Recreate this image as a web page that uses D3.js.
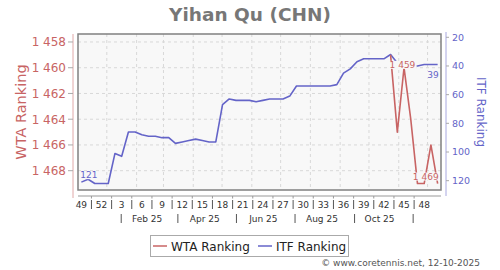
<!DOCTYPE html>
<html lang="en">
<head>
<meta charset="UTF-8">
<title>Yihan Qu (CHN)</title>
<script src="https://d3js.org/d3.v7.min.js"></script>
<style>
  body { margin: 0; background: #fff; }
  svg { font-family: "DejaVu Sans", sans-serif; }
  .grid line { stroke: #d8d8d8; stroke-width: 1; stroke-dasharray: 3,3; }
</style>
</head>
<body>
<script>
// ranking weeks (Monday of each ISO week)
const weekDates = [
  "2024-12-02","2024-12-09","2024-12-16","2024-12-23","2024-12-30",
  "2025-01-06","2025-01-13","2025-01-20","2025-01-27","2025-02-03",
  "2025-02-10","2025-02-17","2025-02-24","2025-03-03","2025-03-10",
  "2025-03-17","2025-03-24","2025-03-31","2025-04-07","2025-04-14",
  "2025-04-21","2025-04-28","2025-05-05","2025-05-12","2025-05-19",
  "2025-05-26","2025-06-02","2025-06-09","2025-06-16","2025-06-23",
  "2025-06-30","2025-07-07","2025-07-14","2025-07-21","2025-07-28",
  "2025-08-04","2025-08-11","2025-08-18","2025-08-25","2025-09-01",
  "2025-09-08","2025-09-15","2025-09-22","2025-09-29","2025-10-06",
  "2025-10-13","2025-10-20","2025-10-27","2025-11-03","2025-11-10",
  "2025-11-17","2025-11-24","2025-12-01","2025-12-08"
];
const wtaRank = [
  null,null,null,null,null,null,null,null,null,null,
  null,null,null,null,null,null,null,null,null,null,
  null,null,null,null,null,null,null,null,null,null,
  null,null,null,null,null,null,null,null,null,null,
  null,null,null,null,null,null,
  1459,1465,1460,1464,1469,1469,1466,1469
];
const itfRank = [
  121,119,122,122,122,101,103,86,86,88,
  89,89,90,90,94,93,92,91,92,93,
  93,67,63,64,64,64,65,64,63,63,
  63,61,54,54,54,54,54,54,53,45,
  42,37,35,35,35,35,32,38,40,40,
  40,39,39,39
];
const wtaTicks = [1458,1460,1462,1464,1466,1468];
const itfTicks = [20,40,60,80,100,120];
const monthGrid = ["2025-01-01","2025-02-01","2025-03-01","2025-04-01","2025-05-01","2025-06-01",
  "2025-07-01","2025-08-01","2025-09-01","2025-10-01","2025-11-01","2025-12-01"];
const monthLabels = ["Feb 25","Apr 25","Jun 25","Aug 25","Oct 25"];
const monthLabelDates = ["2025-02-12","2025-04-13","2025-06-13","2025-08-13","2025-10-12"];
const monthSeps = ["2025-01-16","2025-03-16","2025-05-16","2025-07-16","2025-09-16","2025-11-16"];

const W = 500, H = 270;
const parse = d3.timeParse("%Y-%m-%d");
const dates = weekDates.map(parse);
const mid = d => d3.timeHour.offset(d, 84);
const fmt = d3.formatLocale({decimal: ".", thousands: "\u00a0", grouping: [3], currency: ["", ""]}).format(",");

const box = {l: 78, r: 441, t: 34, b: 190};
const x = d3.scaleTime().domain([parse("2024-12-02"), parse("2025-12-15")]).range([box.l, box.r]);
const yL = d3.scaleLinear().domain([1457.38, 1469.5]).range([box.t, box.b]);
const yR = d3.scaleLinear().domain([17.7, 126.5]).range([box.t, box.b]);

const red = "#c86464", blue = "#6464c8", plotBg = "#f8f8f8";

const svg = d3.select("body").append("svg").attr("width", W).attr("height", H);

svg.append("text").attr("x", 250).attr("y", 21).attr("text-anchor", "middle")
  .attr("font-size", 18.5).attr("font-weight", "bold").attr("fill", "#777")
  .text("Yihan Qu (CHN)");

svg.append("rect").attr("x", box.l).attr("y", box.t)
  .attr("width", box.r - box.l).attr("height", box.b - box.t)
  .attr("fill", plotBg);

// grid
const grid = svg.append("g").attr("class", "grid");
grid.selectAll(".h").data(wtaTicks).join("line")
  .attr("x1", box.l).attr("x2", box.r)
  .attr("y1", d => yL(d)).attr("y2", d => yL(d));
grid.selectAll(".v").data(monthGrid.map(parse)).join("line")
  .attr("x1", d => x(d)).attr("x2", d => x(d))
  .attr("y1", box.t).attr("y2", box.b);

// lines
const series = [
  {vals: itfRank, y: yR, color: blue},
  {vals: wtaRank, y: yL, color: red}
];
series.forEach(s => {
  const pts = dates.map((d, i) => ({d, v: s.vals[i]}));
  svg.append("path").datum(pts)
    .attr("fill", "none").attr("stroke", s.color).attr("stroke-width", 1.6)
    .attr("stroke-linejoin", "round")
    .attr("d", d3.line().defined(p => p.v != null)
      .x(p => x(mid(p.d))).y(p => s.y(p.v)));
});

// first / last value labels
function valueLabel(date, v, scale, color, anchor, above) {
  const px = x(mid(date)), py = scale(v);
  const g = svg.append("g");
  const t = g.append("text")
    .attr("x", anchor === "start" ? px - 1 : px + 1)
    .attr("y", above ? py - 4 : py + 13)
    .attr("text-anchor", anchor).attr("font-size", 9).attr("fill", color)
    .text(fmt(v));
  const bb = t.node().getBBox();
  g.insert("rect", "text").attr("x", bb.x - 1).attr("y", bb.y + 1)
    .attr("width", bb.width + 2).attr("height", bb.height - 2).attr("fill", plotBg);
}
const wtaIdx = wtaRank.map((v, i) => v == null ? -1 : i).filter(i => i >= 0);
const wFirst = wtaIdx[0], wLast = wtaIdx[wtaIdx.length - 1];
valueLabel(dates[0], itfRank[0], yR, blue, "start", true);
valueLabel(dates[dates.length - 1], itfRank[itfRank.length - 1], yR, blue, "end", false);
valueLabel(dates[wFirst], wtaRank[wFirst], yL, red, "start", false);
valueLabel(dates[wLast], wtaRank[wLast], yL, red, "end", true);

// frame
svg.append("rect").attr("x", box.l).attr("y", box.t)
  .attr("width", box.r - box.l).attr("height", box.b - box.t)
  .attr("fill", "none").attr("stroke", "#808080").attr("stroke-width", 1.5);

// left axis
svg.append("line").attr("x1", 73).attr("x2", 73).attr("y1", box.t).attr("y2", 198)
  .attr("stroke", "#e0a8a8");
svg.selectAll(".lt").data(wtaTicks).join("line")
  .attr("x1", 68).attr("x2", 73).attr("y1", d => yL(d)).attr("y2", d => yL(d))
  .attr("stroke", "#aaa");
svg.selectAll(".ll").data(wtaTicks).join("text")
  .attr("x", 66).attr("y", d => yL(d)).attr("dy", "0.36em")
  .attr("text-anchor", "end").attr("font-size", 12).attr("fill", red)
  .text(d => fmt(d));
svg.append("text").attr("transform", "translate(26,112) rotate(-90)")
  .attr("text-anchor", "middle").attr("font-size", 14.5).attr("fill", red)
  .text("WTA Ranking");

// right axis
svg.append("line").attr("x1", 446).attr("x2", 446).attr("y1", box.t - 2).attr("y2", 196)
  .attr("stroke", "#a8a8e0");
svg.selectAll(".rt").data(itfTicks).join("line")
  .attr("x1", 446).attr("x2", 449).attr("y1", d => yR(d)).attr("y2", d => yR(d))
  .attr("stroke", "#aaa");
svg.selectAll(".rl").data(itfTicks).join("text")
  .attr("x", 452).attr("y", d => yR(d)).attr("dy", "0.36em")
  .attr("font-size", 9.5).attr("fill", blue)
  .text(d => d);
svg.append("text").attr("transform", "translate(477,112) rotate(90)")
  .attr("text-anchor", "middle").attr("font-size", 12).attr("fill", blue)
  .text("ITF Ranking");

// bottom axis: weeks
svg.append("line").attr("x1", box.l).attr("x2", box.r).attr("y1", 196).attr("y2", 196)
  .attr("stroke", "#999");
const weekTicks = dates.filter((d, i) => i % 3 === 0);
svg.selectAll(".wl").data(weekTicks).join("text")
  .attr("x", d => x(mid(d))).attr("y", 207.5).attr("text-anchor", "middle")
  .attr("font-size", 9).attr("fill", "#333")
  .text(d => +d3.timeFormat("%V")(d));
// separators halfway between consecutive week labels
const weekSeps = weekTicks.slice(1).map(d => d3.timeDay.offset(d, -7));
svg.selectAll(".wk").data(weekSeps).join("line")
  .attr("x1", d => x(d)).attr("x2", d => x(d)).attr("y1", 196).attr("y2", 198.5)
  .attr("stroke", "#999");
svg.selectAll(".ws").data(weekSeps).join("line")
  .attr("x1", d => x(d)).attr("x2", d => x(d)).attr("y1", 200).attr("y2", 209)
  .attr("stroke", "#555");
svg.selectAll(".ms").data(monthSeps.map(parse)).join("line")
  .attr("x1", d => x(d)).attr("x2", d => x(d)).attr("y1", 214).attr("y2", 223)
  .attr("stroke", "#555");
svg.selectAll(".ml").data(monthLabels).join("text")
  .attr("x", (d, i) => x(parse(monthLabelDates[i]))).attr("y", 222)
  .attr("text-anchor", "middle").attr("font-size", 9).attr("fill", "#333")
  .text(d => d);

// legend
const leg = svg.append("g");
leg.append("rect").attr("x", 150.5).attr("y", 235.5).attr("width", 198).attr("height", 21)
  .attr("fill", "#fff").attr("stroke", "#aaa");
[["WTA Ranking", red, 153], ["ITF Ranking", blue, 258]].forEach(([name, c, lx]) => {
  leg.append("line").attr("x1", lx).attr("x2", lx + 14).attr("y1", 246).attr("y2", 246)
    .attr("stroke", c).attr("stroke-width", 1.5);
  leg.append("text").attr("x", lx + 18).attr("y", 250.5).attr("font-size", 12)
    .attr("fill", "#222").text(name);
});

svg.append("text").attr("x", 480).attr("y", 266).attr("text-anchor", "end")
  .attr("font-size", 9).attr("fill", "#555")
  .text("\u00a9 www.coretennis.net, 12-10-2025");
</script>
</body>
</html>
